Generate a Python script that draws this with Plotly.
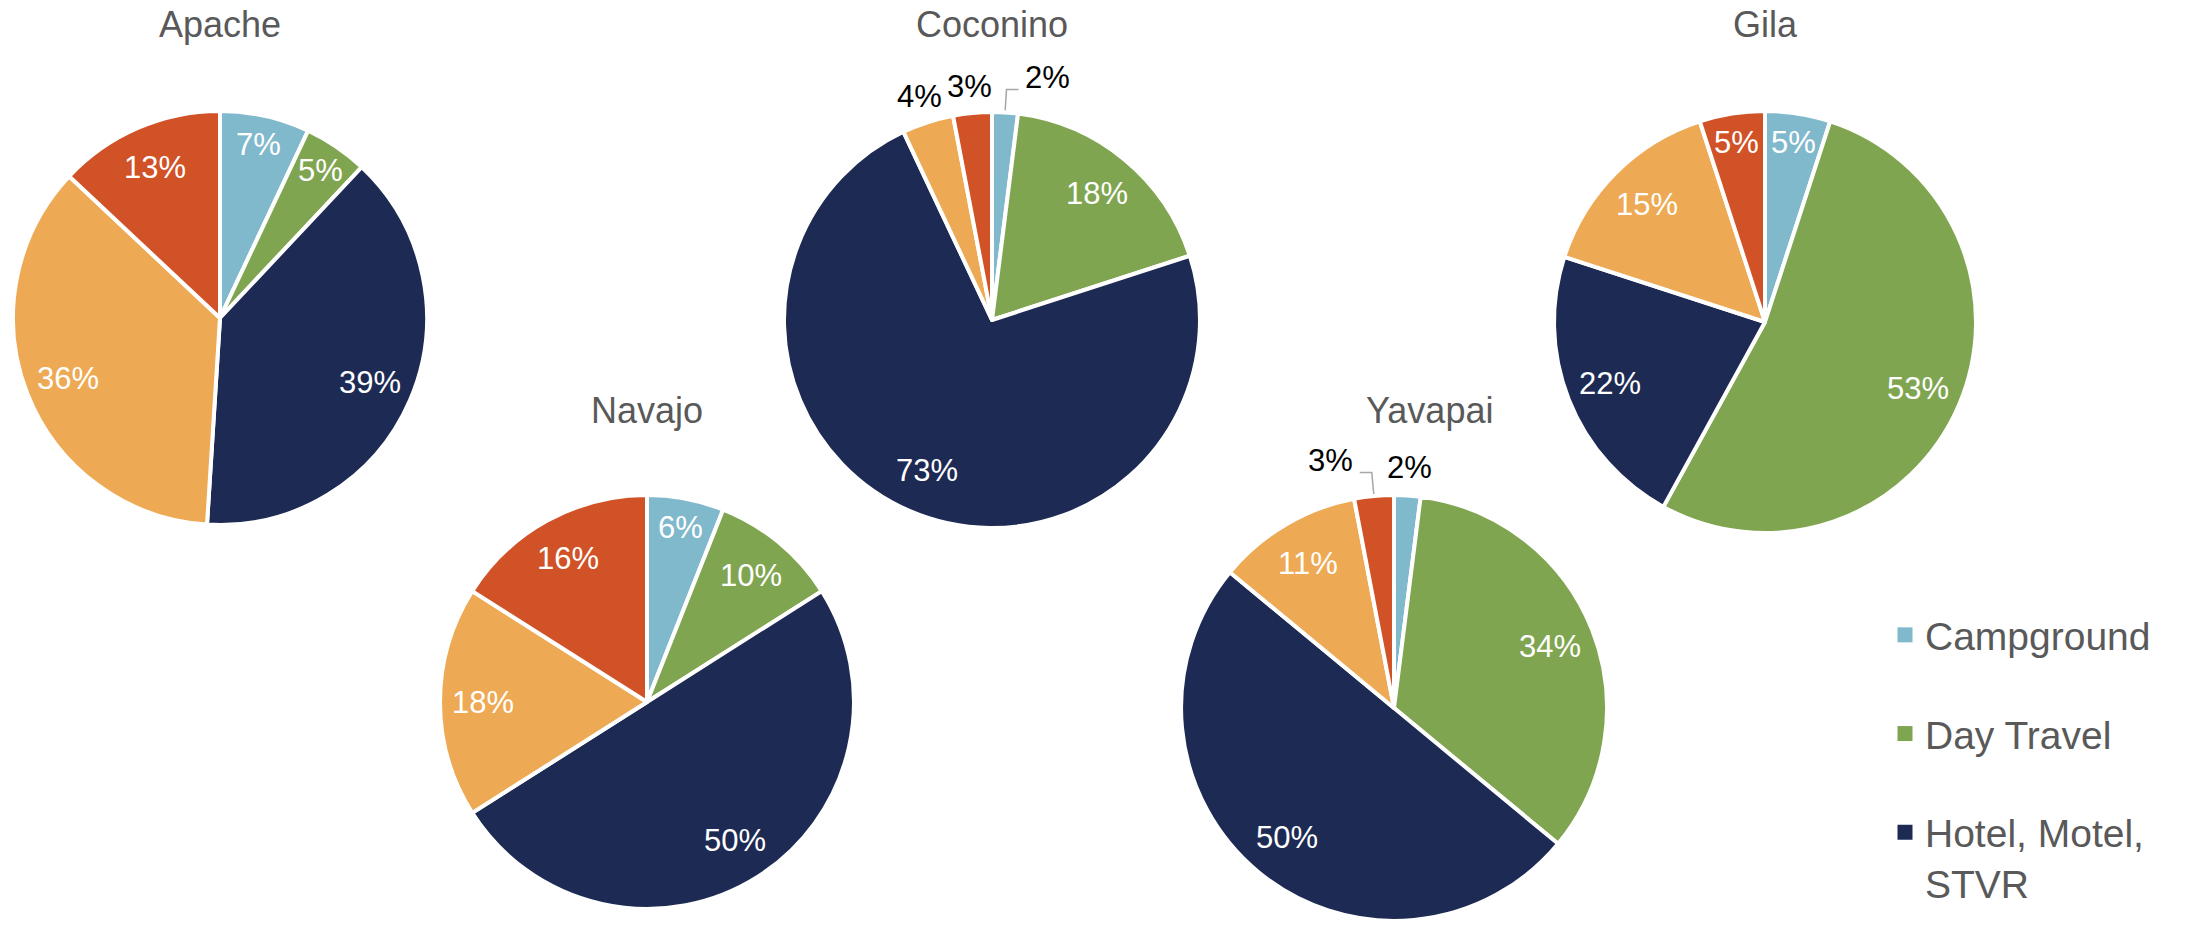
import math
import plotly.graph_objects as go

# Lodging type shares (%) by county
categories = ["Campground", "Day Travel", "Hotel, Motel, STVR", "Friends/Relatives", "Other"]
counties = ["Apache", "Coconino", "Gila", "Navajo", "Yavapai"]
apache = [7, 5, 39, 36, 13]
coconino = [2, 18, 73, 4, 3]
gila = [5, 53, 22, 15, 5]
navajo = [6, 10, 50, 18, 16]
yavapai = [2, 34, 50, 11, 3]
shares = {"Apache": apache, "Coconino": coconino, "Gila": gila,
          "Navajo": navajo, "Yavapai": yavapai}

# Only these categories appear in the legend
legend_categories = ["Campground", "Day Travel", "Hotel, Motel, STVR"]
legend_text = {"Hotel, Motel, STVR": "Hotel, Motel,<br>STVR"}

colors = {
    "Campground": "#7FB9CB",
    "Day Travel": "#80A551",
    "Hotel, Motel, STVR": "#1D2A53",
    "Friends/Relatives": "#EDA953",
    "Other": "#D15227",
}

W, H = 2187, 925
FONT = "Liberation Sans, Arial, sans-serif"
GREY = "#595959"

# pie centre (px), radius (px), title position (px)
pie_box = {
    "Apache": (220, 318, 207, 220, 25),
    "Coconino": (992, 320, 208, 992, 25),
    "Gila": (1765, 322, 211, 1765, 25),
    "Navajo": (647, 702, 207, 647, 410),
    "Yavapai": (1394, 708, 213, 1429, 410),
}

# small slices whose outside label is joined by a leader line
leader_labels = {("Coconino", "Campground"), ("Yavapai", "Other")}


def px(x):
    return x / W


def py(y):
    return 1 - y / H


fig = go.Figure()
annotations = []
shapes = []

for county in counties:
    vals = shares[county]
    cx, cy, r, tx, ty = pie_box[county]
    fig.add_trace(go.Pie(
        labels=categories,
        values=vals,
        name=county,
        sort=False,
        direction="clockwise",
        rotation=0,
        marker=dict(colors=[colors[c] for c in categories],
                    line=dict(color="white", width=4)),
        textinfo="none",
        hovertemplate="%{label}: %{value}%<extra>" + county + "</extra>",
        showlegend=False,
        domain=dict(x=[px(cx - r), px(cx + r)], y=[py(cy + r), py(cy - r)]),
    ))
    annotations.append(dict(
        x=px(tx), y=py(ty), xref="paper", yref="paper",
        text=county, showarrow=False, xanchor="center", yanchor="middle",
        font=dict(family=FONT, size=36, color=GREY),
    ))

    total = sum(vals)
    cum = 0.0
    for cat, v in zip(categories, vals):
        theta = math.radians((cum + v / 2) / total * 360)
        cum += v
        s, c = math.sin(theta), math.cos(theta)
        label = f"{v}%"
        if v >= 5:
            f = 0.79 if v >= 10 else 0.86
            annotations.append(dict(
                x=px(cx + f * r * s), y=py(cy - f * r * c),
                xref="paper", yref="paper", text=label, showarrow=False,
                xanchor="center", yanchor="middle",
                font=dict(family=FONT, size=31, color="white"),
            ))
        elif (county, cat) in leader_labels:
            side = 1 if s >= 0 else -1
            x0, y0 = cx + (r + 2) * s, cy - (r + 2) * c
            x1, y1 = cx + 1.11 * r * s, cy - 1.11 * r * c
            x2, y2 = x1 + side * 12, y1
            shapes.append(dict(
                type="path", xref="paper", yref="paper",
                path=f"M {px(x0)} {py(y0)} L {px(x1)} {py(y1)} L {px(x2)} {py(y2)}",
                line=dict(color="#A6A6A6", width=1.5),
            ))
            annotations.append(dict(
                x=px(x2 + side * 5), y=py(y2 - 12),
                xref="paper", yref="paper", text=label, showarrow=False,
                xanchor="left" if side > 0 else "right", yanchor="middle",
                font=dict(family=FONT, size=31, color="black"),
            ))
        else:
            f = 1.13
            annotations.append(dict(
                x=px(cx + f * r * s), y=py(cy - f * r * c),
                xref="paper", yref="paper", text=label, showarrow=False,
                xanchor="center", yanchor="middle",
                font=dict(family=FONT, size=31, color="black"),
            ))

# legend entries
for cat in legend_categories:
    fig.add_trace(go.Scatter(
        x=[None], y=[None], mode="markers",
        marker=dict(symbol="square", size=15, color=colors[cat]),
        name=legend_text.get(cat, cat), legendgroup=cat,
        hoverinfo="skip",
    ))

fig.update_layout(
    width=W, height=H,
    margin=dict(l=0, r=0, t=0, b=0),
    paper_bgcolor="white",
    plot_bgcolor="white",
    xaxis=dict(visible=False),
    yaxis=dict(visible=False),
    annotations=annotations,
    shapes=shapes,
    showlegend=True,
    legend=dict(
        x=px(1885), y=py(603), xanchor="left", yanchor="top",
        font=dict(family=FONT, size=39, color=GREY),
        tracegroupgap=45,
        valign="top",
        bgcolor="rgba(0,0,0,0)",
        traceorder="grouped",
    ),
)

fig.write_html("out.html")
